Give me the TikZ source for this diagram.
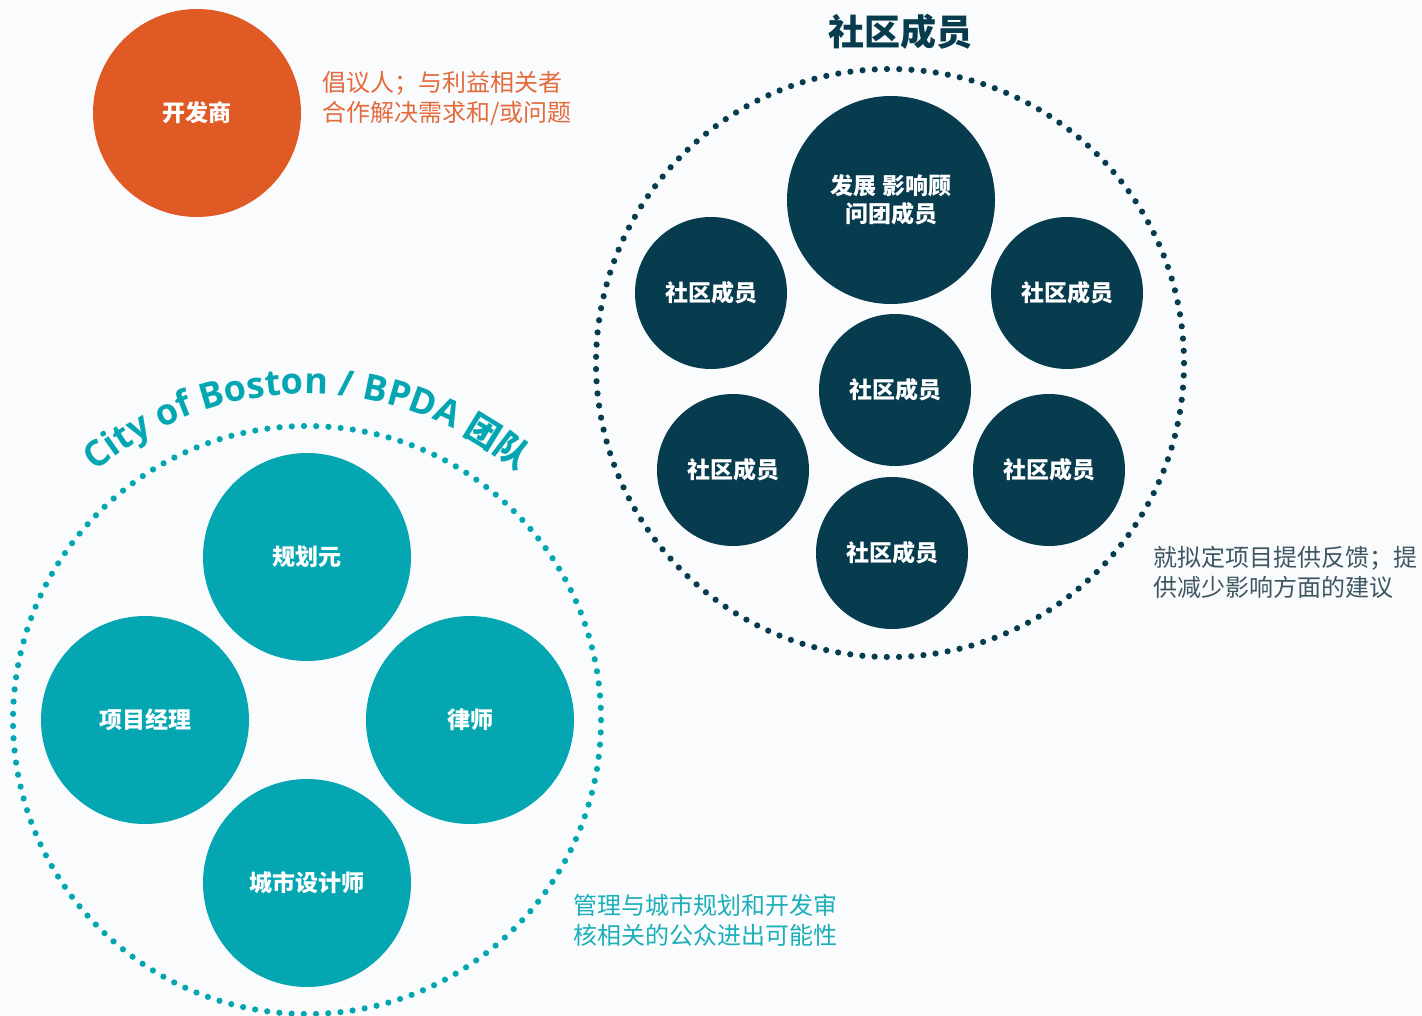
\documentclass[tikz,border=0pt]{standalone}
\usepackage{fontspec}
\setmainfont{Open Sans}
\newfontfamily\cjk{Noto Sans CJK SC}
\usepackage{xcolor}
\definecolor{cOrange}{HTML}{E05A26}
\definecolor{cNavy}{HTML}{073B4E}
\definecolor{cTeal}{HTML}{03A6B1}
\definecolor{cSlate}{HTML}{3E5661}
\definecolor{cBg}{HTML}{FAFBFC}
\usetikzlibrary{positioning,decorations.text}
\tikzset{
  node-ball/.style={circle,inner sep=0pt,minimum size=152pt,align=center,
    text=white,font=\cjk\bfseries\fontsize{23}{28}\selectfont},
  node-big/.style={node-ball,minimum size=208pt},
  node-navy/.style={fill=cNavy},
  node-teal/.style={fill=cTeal},
  node-orange/.style={fill=cOrange},
  node-ring/.style={circle,inner sep=0pt,minimum size=588pt,line width=6.2pt,
    dash pattern=on 0pt off 12.234pt,line cap=round},
  node-note/.style={anchor=west,inner sep=0pt,align=left,
    font=\cjk\fontsize{24}{30}\selectfont},
}

\begin{document}
\begin{tikzpicture}[x=1pt,y=-1pt]
  \fill[cBg] (0,0) rectangle (1422,1015);
  \useasboundingbox (0,0) rectangle (1422,1015);

  % developer
  \node[node-big,node-orange]                 (dev)     at (197,113) {开发商};
  \node[node-note,text=cOrange!90!white]      (devnote) at (322,99)
    {倡议人；与利益相关者\\合作解决需求和/或问题};

  % community members
  \node[node-ring,draw=cNavy]                 (ring-comm) at (890,363) {};
  \node[font=\cjk\bfseries\fontsize{36}{40}\selectfont,text=cNavy]
                                              (comm-title) at (900,32) {社区成员};
  \node[node-big,node-navy]                   (advisor) at (891,200) {发展 影响顾\\问团成员};
  \node[node-ball,node-navy]                  (comm1)   at (711,293) {社区成员};
  \node[node-ball,node-navy]                  (comm2)   at (1067,293) {社区成员};
  \node[node-ball,node-navy]                  (comm3)   at (895,390) {社区成员};
  \node[node-ball,node-navy]                  (comm4)   at (733,470) {社区成员};
  \node[node-ball,node-navy]                  (comm5)   at (1049,470) {社区成员};
  \node[node-ball,node-navy]                  (comm6)   at (892,553) {社区成员};
  \node[node-note,text=cSlate]                (commnote) at (1153,572)
    {就拟定项目提供反馈；提\\供减少影响方面的建议};

  % city team
  \node[node-ring,draw=cTeal]                 (ring-city) at (307,720) {};
  \node[node-big,node-teal]                   (plan)     at (307,557) {规划元};
  \node[node-big,node-teal]                   (pm)       at (145,720) {项目经理};
  \node[node-big,node-teal]                   (lawyer)   at (470,720) {律师};
  \node[node-big,node-teal]                   (designer) at (307,883) {城市设计师};
  \node[node-note,text=cTeal!90!white]        (citynote) at (573,920)
    {管理与城市规划和开发审\\核相关的公众进出可能性};
  \path[decorate,decoration={text along path,text align=center,
      text={|\color{cTeal}\bfseries\fontsize{36}{40}\selectfont|City of Boston / BPDA |\color{cTeal}\cjk\bfseries\fontsize{34}{40}\selectfont|团队}}]
    (ring-city.center) ++(160:326pt) arc[start angle=160,end angle=20,radius=326pt];
\end{tikzpicture}
\end{document}
